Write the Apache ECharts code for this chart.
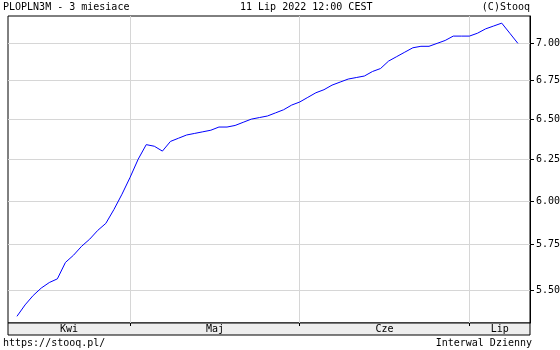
<!DOCTYPE html>
<html>
<head>
<meta charset="utf-8">
<script src="https://cdn.jsdelivr.net/npm/echarts@6/dist/echarts.min.js"></script>
<style>html,body{margin:0;padding:0;background:#fff}#c{width:560px;height:350px}</style>
</head>
<body>
<div id="c"></div>
<script>
const dates = [
 '2022-04-11','2022-04-12','2022-04-13','2022-04-14','2022-04-15','2022-04-19','2022-04-20','2022-04-21','2022-04-22','2022-04-25','2022-04-26','2022-04-27','2022-04-28','2022-04-29',
 '2022-05-02','2022-05-04','2022-05-05','2022-05-06','2022-05-09','2022-05-10','2022-05-11','2022-05-12','2022-05-13','2022-05-16','2022-05-17','2022-05-18','2022-05-19','2022-05-20','2022-05-23','2022-05-24','2022-05-25','2022-05-26','2022-05-27','2022-05-30','2022-05-31',
 '2022-06-01','2022-06-02','2022-06-03','2022-06-06','2022-06-07','2022-06-08','2022-06-09','2022-06-10','2022-06-13','2022-06-14','2022-06-15','2022-06-17','2022-06-20','2022-06-21','2022-06-22','2022-06-23','2022-06-24','2022-06-27','2022-06-28','2022-06-29','2022-06-30',
 '2022-07-01','2022-07-04','2022-07-05','2022-07-06','2022-07-07','2022-07-08','2022-07-11'
];
const rates = [
 5.36,5.42,5.47,5.51,5.54,5.56,5.65,5.69,5.74,5.78,5.83,5.87,5.95,6.04,
 6.14,6.25,6.34,6.33,6.30,6.36,6.38,6.40,6.41,6.42,6.43,6.45,6.45,6.46,6.48,6.50,6.51,6.52,6.54,6.56,6.59,
 6.61,6.64,6.67,6.69,6.72,6.74,6.76,6.77,6.78,6.81,6.83,6.88,6.91,6.94,6.97,6.98,6.98,7.00,7.02,7.05,7.05,
 7.05,7.07,7.10,7.12,7.14,7.07,7.00
];
const yTicks = [5.50, 5.75, 6.00, 6.25, 6.50, 6.75, 7.00];
const monthNames = ['Kwi', 'Maj', 'Cze', 'Lip'];
const titleLeft = 'PLOPLN3M - 3 miesiace';
const titleCenter = '11 Lip 2022 12:00 CEST';
const titleRight = '(C)Stooq';
const footLeft = 'https://stooq.pl/';
const footRight = 'Interwal Dzienny';

const X_MIN = -1.11, X_MAX = 63.5;
const Y_MIN = Math.log(5.325), Y_MAX = Math.log(7.19);
const FONT = 'DejaVu Sans Mono';

const monthStarts = [];
for (let i = 1; i < dates.length; i++) {
  if (dates[i].slice(5, 7) !== dates[i - 1].slice(5, 7)) monthStarts.push(i);
}
const edges = [X_MIN].concat(monthStarts, [X_MAX]);
const monthMids = [];
for (let i = 0; i < edges.length - 1; i++) monthMids.push((edges[i] + edges[i + 1]) / 2);

const yLn = yTicks.map(v => Math.log(v));
const seriesData = rates.map((v, i) => [i, Math.log(v)]);

const txt = (extra) => Object.assign({fontFamily: FONT, fontSize: 10, fontWeight: 'normal', color: '#000'}, extra || {});

const chart = echarts.init(document.getElementById('c'), null, {renderer: 'canvas'});
chart.setOption({
  animation: false,
  backgroundColor: '#fff',
  title: [
    {text: titleLeft, left: 3, top: 2, padding: 0, textStyle: txt()},
    {text: titleCenter, left: 240, top: 2, padding: 0, textStyle: txt()},
    {text: titleRight, right: 30, top: 2, padding: 0, textStyle: txt()},
    {text: footLeft, left: 3, top: 338, padding: 0, textStyle: txt()},
    {text: footRight, right: 28, top: 338, padding: 0, textStyle: txt()}
  ],
  grid: [
    {left: 8, right: 30, top: 16, bottom: 27, show: true, borderColor: '#000', borderWidth: 1, backgroundColor: '#fff', containLabel: false, outerBoundsMode: 'none'},
    {left: 8, right: 30, top: 323, height: 12, show: true, borderColor: '#000', borderWidth: 1, backgroundColor: '#eeeeee', containLabel: false, outerBoundsMode: 'none'}
  ],
  xAxis: [
    {
      type: 'value', gridIndex: 0, min: X_MIN, max: X_MAX,
      axisLine: {show: false, onZero: false},
      axisLabel: {show: false},
      axisTick: {show: false, customValues: monthStarts},
      splitLine: {show: true, lineStyle: {color: '#d6d6d6', width: 1}}
    },
    {
      type: 'value', gridIndex: 1, min: X_MIN, max: X_MAX, position: 'top',
      axisLine: {show: false, onZero: false},
      axisTick: {show: true, inside: true, length: 3, customValues: monthStarts, lineStyle: {color: '#000'}},
      axisLabel: {
        show: true, inside: true, margin: 1, customValues: monthMids,
        formatter: (v) => {
          const k = monthMids.findIndex(m => Math.abs(m - v) < 1e-6);
          return k >= 0 ? monthNames[k] : '';
        },
        fontFamily: FONT, fontSize: 10, color: '#000', verticalAlign: 'top'
      },
      splitLine: {show: false}
    }
  ],
  yAxis: [
    {
      type: 'value', gridIndex: 0, position: 'right', min: Y_MIN, max: Y_MAX,
      axisLine: {show: true, onZero: false, lineStyle: {color: '#000', width: 1}},
      axisTick: {show: true, length: 4, customValues: yLn, lineStyle: {color: '#000'}},
      axisLabel: {
        show: true, margin: 6, customValues: yLn,
        formatter: (v) => Math.exp(v).toFixed(2),
        fontFamily: FONT, fontSize: 10, color: '#000'
      },
      splitLine: {show: true, lineStyle: {color: '#d6d6d6', width: 1}}
    },
    {
      type: 'value', gridIndex: 1, min: 0, max: 1,
      axisLine: {show: false, onZero: false}, axisTick: {show: false}, axisLabel: {show: false}, splitLine: {show: false}
    }
  ],
  series: [
    {
      type: 'line', xAxisIndex: 0, yAxisIndex: 0, data: seriesData,
      showSymbol: false, symbol: 'none',
      lineStyle: {color: '#0000ff', width: 1},
      z: 3
    }
  ]
});
</script>
</body>
</html>
